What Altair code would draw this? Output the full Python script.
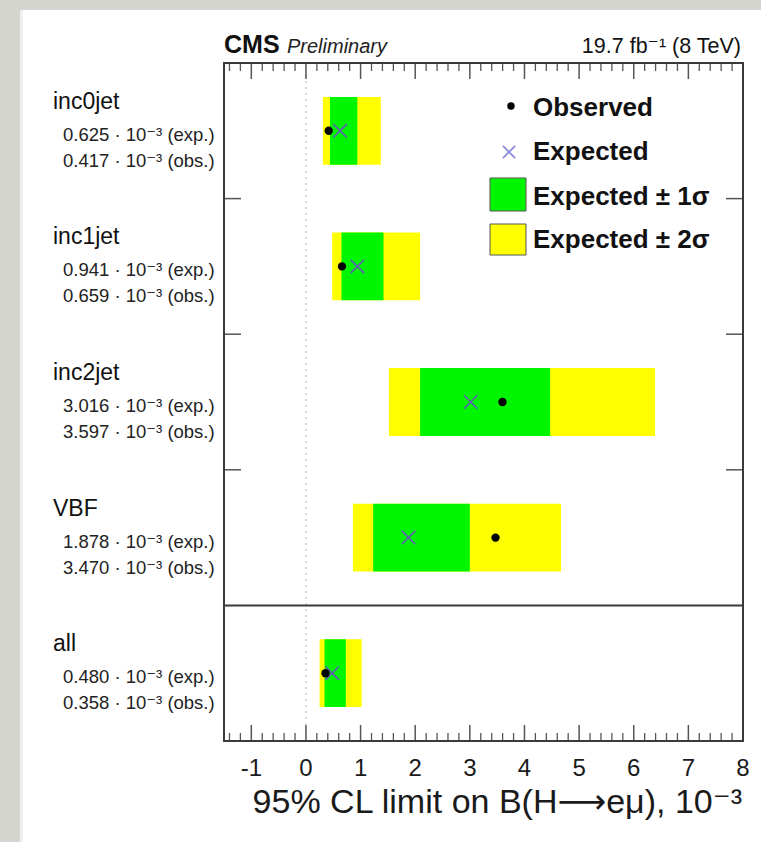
import altair as alt
import pandas as pd

# ---------------- data ----------------
categories = ["inc0jet", "inc1jet", "inc2jet", "VBF", "all"]
expected = [0.625, 0.941, 3.016, 1.878, 0.480]
observed = [0.417, 0.659, 3.597, 3.470, 0.358]
sigma1_lo = [0.44, 0.65, 2.09, 1.23, 0.34]
sigma1_hi = [0.94, 1.42, 4.47, 3.00, 0.73]
sigma2_lo = [0.31, 0.48, 1.52, 0.86, 0.25]
sigma2_hi = [1.37, 2.09, 6.39, 4.67, 1.02]
exp_labels = ["0.625", "0.941", "3.016", "1.878", "0.480"]
obs_labels = ["0.417", "0.659", "3.597", "3.470", "0.358"]

major_ticks = [-1, 0, 1, 2, 3, 4, 5, 6, 7, 8]
tick_labels = ["-1", "0", "1", "2", "3", "4", "5", "6", "7", "8"]
minor_ticks = [round(-1.4 + 0.2 * k, 1) for k in range(48) if abs(round(-1.4 + 0.2 * k, 1) % 1) > 1e-9]
separators = [1, 2, 3]
block_line = [4]

legend_labels = ["Observed", "Expected", "Expected ± 1σ", "Expected ± 2σ"]

FONT = "Liberation Sans, DejaVu Sans"
W, H = 519, 678

df = pd.DataFrame({
    "cat": categories,
    "idx": list(range(len(categories))),
    "exp": expected,
    "obs": observed,
    "lo1": sigma1_lo, "hi1": sigma1_hi,
    "lo2": sigma2_lo, "hi2": sigma2_hi,
})
df["center"] = df["idx"] + 0.5
df["top"] = df["idx"] + 0.25
df["bot"] = df["idx"] + 0.75
df["exp_text"] = [f"{s} · 10⁻³ (exp.)" for s in exp_labels]
df["obs_text"] = [f"{s} · 10⁻³ (obs.)" for s in obs_labels]

major_df = pd.DataFrame({"v": major_ticks, "lab": tick_labels})
minor_df = pd.DataFrame({"v": minor_ticks})
sep_df = pd.DataFrame({"s": separators})
line_df = pd.DataFrame({"s": block_line})
one = pd.DataFrame({"a": [0]})

xs = alt.Scale(domain=[-1.5, 8], nice=False, zero=False)
ys = alt.Scale(domain=[0, 5], reverse=True, nice=False, zero=False)

X = lambda f: alt.X(f, scale=xs, axis=None)
Y = lambda f: alt.Y(f, scale=ys, axis=None)

base = alt.Chart(df)

card = alt.Chart(one).mark_rect(fill="white").encode(
    x=alt.value(-204), x2=alt.value(537), y=alt.value(-53), y2=alt.value(779))
card_edge = alt.Chart(one).mark_rect(fill="#eef2f2").encode(
    x=alt.value(-204), x2=alt.value(-201), y=alt.value(-53), y2=alt.value(779))

zero_line = alt.Chart(pd.DataFrame({"v": [0]})).mark_rule(
    color="#c4c4c4", strokeWidth=1.2, strokeDash=[2, 4]).encode(
    x=X("v:Q"), y=alt.value(0), y2=alt.value(H))

band2 = base.mark_rect(color="#ffff00").encode(
    x=X("lo2:Q"), x2="hi2:Q", y=Y("top:Q"), y2="bot:Q")
band1 = base.mark_rect(color="#00f500").encode(
    x=X("lo1:Q"), x2="hi1:Q", y=Y("top:Q"), y2="bot:Q")

cross_shape = "M -1 -1 L 1 1 M -1 1 L 1 -1"
exp_pts = base.mark_point(shape=cross_shape, size=180, filled=False,
                          color="#5f5db8", strokeWidth=1.6, opacity=1).encode(
    x=X("exp:Q"), y=Y("center:Q"))
obs_pts = base.mark_point(shape="circle", size=70, filled=True,
                          color="black", opacity=1).encode(
    x=X("obs:Q"), y=Y("center:Q"))

frame = alt.Chart(one).mark_rect(fillOpacity=0, stroke="#3a3a3a", strokeWidth=2).encode(
    x=alt.value(0), x2=alt.value(W), y=alt.value(0), y2=alt.value(H))

tick_col = "#555555"
maj_bot = alt.Chart(major_df).mark_rule(color=tick_col, strokeWidth=1.5).encode(
    x=X("v:Q"), y=alt.value(H), y2=alt.value(H - 16))
maj_top = alt.Chart(major_df).mark_rule(color=tick_col, strokeWidth=1.5).encode(
    x=X("v:Q"), y=alt.value(0), y2=alt.value(16))
min_bot = alt.Chart(minor_df).mark_rule(color=tick_col, strokeWidth=1.3).encode(
    x=X("v:Q"), y=alt.value(H), y2=alt.value(H - 8))
min_top = alt.Chart(minor_df).mark_rule(color=tick_col, strokeWidth=1.3).encode(
    x=X("v:Q"), y=alt.value(0), y2=alt.value(8))

sep_left = alt.Chart(sep_df).mark_rule(color=tick_col, strokeWidth=1.5).encode(
    y=Y("s:Q"), x=alt.value(0), x2=alt.value(17))
sep_right = alt.Chart(sep_df).mark_rule(color=tick_col, strokeWidth=1.5).encode(
    y=Y("s:Q"), x=alt.value(W - 17), x2=alt.value(W))
block = alt.Chart(line_df).mark_rule(color="#3a3a3a", strokeWidth=2).encode(
    y=Y("s:Q"), x=alt.value(0), x2=alt.value(W))

tick_text = alt.Chart(major_df).mark_text(
    font=FONT, fontSize=24, color="#1a1a1a", baseline="alphabetic", align="center").encode(
    x=X("v:Q"), y=alt.value(H + 35), text="lab:N")

xtitle = alt.Chart(one).mark_text(
    font=FONT, fontSize=34, color="#1a1a1a", baseline="alphabetic", align="right",
    text="95% CL limit on B(H⟶eμ), 10⁻³").encode(x=alt.value(W - 1), y=alt.value(H + 72))

cms = alt.Chart(one).mark_text(
    font=FONT, fontSize=25, fontWeight="bold", color="#111", baseline="alphabetic",
    align="left", text="CMS").encode(x=alt.value(0), y=alt.value(-10))
prelim = alt.Chart(one).mark_text(
    font=FONT, fontSize=20, fontStyle="italic", color="#222", baseline="alphabetic",
    align="left", text="Preliminary").encode(x=alt.value(63), y=alt.value(-10))
lumi = alt.Chart(one).mark_text(
    font=FONT, fontSize=21.5, color="#111", baseline="alphabetic",
    align="right", text="19.7 fb⁻¹ (8 TeV)").encode(x=alt.value(W - 2), y=alt.value(-10))

names = base.mark_text(font=FONT, fontSize=23, color="#111", align="left",
                       baseline="alphabetic", dy=-22).encode(
    x=alt.value(-171), y=Y("center:Q"), text="cat:N")
exp_txt = base.mark_text(font=FONT, fontSize=18.5, color="#222", align="left",
                         baseline="alphabetic", dy=10).encode(
    x=alt.value(-161), y=Y("center:Q"), text="exp_text:N")
obs_txt = base.mark_text(font=FONT, fontSize=18.5, color="#222", align="left",
                         baseline="alphabetic", dy=36).encode(
    x=alt.value(-161), y=Y("center:Q"), text="obs_text:N")

# legend (drawn by hand, top right inside the frame)
leg_dot = alt.Chart(one).mark_point(shape="circle", size=55, filled=True, color="black",
                                    opacity=1).encode(x=alt.value(287), y=alt.value(43))
leg_x = alt.Chart(one).mark_point(shape=cross_shape, size=150, filled=False, color="#8a86dc",
                                  strokeWidth=1.6, opacity=1).encode(x=alt.value(285), y=alt.value(89))
leg_g = alt.Chart(one).mark_rect(color="#00f500", stroke="#555", strokeWidth=1).encode(
    x=alt.value(266), x2=alt.value(302), y=alt.value(115), y2=alt.value(148))
leg_y = alt.Chart(one).mark_rect(color="#ffff00", stroke="#555", strokeWidth=1).encode(
    x=alt.value(266), x2=alt.value(302), y=alt.value(161), y2=alt.value(192))
leg_texts = []
for lab, yb in zip(legend_labels, [53, 97, 142, 185]):
    leg_texts.append(alt.Chart(one).mark_text(
        font=FONT, fontSize=26, fontWeight="bold", color="#111", align="left",
        baseline="alphabetic", text=lab).encode(x=alt.value(309), y=alt.value(yb)))

chart = alt.layer(
    card, card_edge, zero_line, band2, band1, exp_pts, obs_pts,
    min_bot, min_top, maj_bot, maj_top, sep_left, sep_right, block, frame,
    tick_text, xtitle, cms, prelim, lumi, names, exp_txt, obs_txt,
    leg_dot, leg_x, leg_g, leg_y, *leg_texts,
).properties(
    width=W, height=H,
    padding={"left": 20, "top": 10, "right": 0, "bottom": 0},
    background="#d5d5cf",
).configure_view(strokeWidth=0)

chart.save("out.html", embed_options={"renderer": "svg", "actions": False})
